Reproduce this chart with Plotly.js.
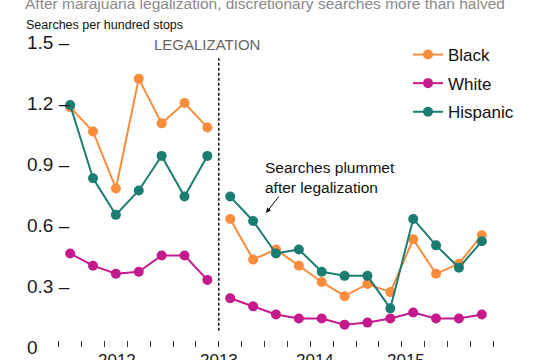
<!DOCTYPE html>
<html>
<head>
<meta charset="utf-8">
<script src="https://cdn.plot.ly/plotly-3.0.1.min.js"></script>
<style>html,body{margin:0;padding:0;background:#fff;}#chart{width:550px;height:360px;}</style>
</head>
<body>
<div id="chart"></div>
<script>
// Quarterly data, 2011 Q2 – 2015 Q4 (legalization at start of 2013)
var quarters = ['2011 Q2','2011 Q3','2011 Q4','2012 Q1','2012 Q2','2012 Q3','2012 Q4',
                '2013 Q1','2013 Q2','2013 Q3','2013 Q4','2014 Q1','2014 Q2','2014 Q3','2014 Q4',
                '2015 Q1','2015 Q2','2015 Q3','2015 Q4'];
var black    = [1.18, 1.06, 0.78, 1.32, 1.10, 1.20, 1.08,
                0.63, 0.43, 0.48, 0.40, 0.32, 0.25, 0.31, 0.27, 0.53, 0.36, 0.41, 0.55];
var white    = [0.46, 0.40, 0.36, 0.37, 0.45, 0.45, 0.33,
                0.24, 0.20, 0.16, 0.14, 0.14, 0.11, 0.12, 0.14, 0.17, 0.14, 0.14, 0.16];
var hispanic = [1.19, 0.83, 0.65, 0.77, 0.94, 0.74, 0.94,
                0.74, 0.62, 0.46, 0.48, 0.37, 0.35, 0.35, 0.19, 0.63, 0.50, 0.39, 0.52];
var seriesNames = ['Black', 'White', 'Hispanic'];
var yTickValues = [0, 0.3, 0.6, 0.9, 1.2, 1.5];
var yTickLabels = ['0', '0.3 \u2013', '0.6 \u2013', '0.9 \u2013', '1.2 \u2013', '1.5 \u2013'];
var yearLabels = ['2012', '2013', '2014', '2015'];
var legalizationIndex = 7; // first post-legalization quarter

var colors = ['#FB8C3C', '#C41A8C', '#1B7D72'];
var fontFam = '"Liberation Sans", Arial, Helvetica, sans-serif';

function withGap(vals) {
  var xs = [], ys = [];
  for (var i = 0; i < vals.length; i++) {
    if (i === legalizationIndex) { xs.push(legalizationIndex); ys.push(null); }
    xs.push(i + 0.5); ys.push(vals[i]);
  }
  return {x: xs, y: ys};
}

var allSeries = [black, white, hispanic];
var traces = allSeries.map(function (vals, k) {
  var d = withGap(vals);
  return {
    type: 'scatter', mode: 'lines+markers', name: seriesNames[k],
    legendgroup: seriesNames[k],
    x: d.x, y: d.y, connectgaps: false,
    line: {color: colors[k], width: 2},
    marker: {color: colors[k], size: 10},
    hoverinfo: 'skip'
  };
});

// pixel geometry helpers (plot area: left 40, width 500; top 30, height 317)
var L = 40, W = 500, T = 30, H = 317;
var tickBoundaries = [];
for (var b = 0; b <= 19; b++) tickBoundaries.push(b);

var annotations = [];
yTickValues.forEach(function (v, i) {
  annotations.push({
    xref: 'paper', yref: 'y', x: (25 - L) / W, y: v, xanchor: 'left', yanchor: 'middle',
    text: yTickLabels[i], showarrow: false, font: {family: fontFam, size: 19, color: '#1a1a1a'}
  });
});
var yearPos = [2.55, 7.0, 11.2, 15.2];
yearLabels.forEach(function (t, i) {
  annotations.push({
    xref: 'x', yref: 'paper', x: yearPos[i], y: (T + H - 349) / H, yanchor: 'top', xanchor: 'center',
    text: t, showarrow: false, font: {family: fontFam, size: 17, color: '#1a1a1a'}
  });
});
annotations.push({
  xref: 'paper', yref: 'paper', x: (24 - L) / W, y: (T + H - 24.5) / H, xanchor: 'left', yanchor: 'middle',
  text: 'Searches per hundred stops', showarrow: false, font: {family: fontFam, size: 12.5, color: '#111'}
});
annotations.push({
  xref: 'x', yref: 'y', x: 6.5, y: 1.488, xanchor: 'center', yanchor: 'middle',
  text: 'LEGALIZATION', showarrow: false, font: {family: fontFam, size: 15, color: '#666'}
});
annotations.push({
  xref: 'x', yref: 'y', x: (263 - 58.7) / 22.87, y: (347 - 157) / 203.3, xanchor: 'left', yanchor: 'top',
  align: 'left', text: 'Searches plummet<br>after legalization', showarrow: false,
  font: {family: fontFam, size: 15.5, color: '#111'}
});
annotations.push({
  xref: 'x', yref: 'y', x: (266 - 58.7) / 22.87, y: (347 - 213) / 203.3, ax: 14, ay: -18,
  text: '', showarrow: true, arrowhead: 2, arrowsize: 1, arrowwidth: 1, arrowcolor: '#111'
});

var layout = {
  width: 550, height: 360,
  margin: {l: L, r: 550 - L - W, t: T, b: 360 - T - H, pad: 0},
  paper_bgcolor: '#fff', plot_bgcolor: '#fff',
  font: {family: fontFam, color: '#111'},
  title: {
    text: 'After marajuana legalization, discretionary searches more than halved',
    x: 25 / 550, xanchor: 'left', xref: 'container', yref: 'container', y: 1 - 9 / 360, yanchor: 'bottom',
    font: {family: fontFam, size: 15.5, color: '#8a8a8a'}
  },
  xaxis: {
    range: [(L - 58.7) / 22.87, (L + W - 58.7) / 22.87],
    tickmode: 'array', tickvals: tickBoundaries, ticktext: tickBoundaries.map(function () { return ''; }),
    ticks: 'inside', ticklen: 6, tickwidth: 1, tickcolor: '#333',
    showgrid: false, zeroline: false, showline: false, fixedrange: true
  },
  yaxis: {
    range: [(347 - (T + H)) / 203.3, (347 - T) / 203.3],
    showticklabels: false, ticks: '', showgrid: false, zeroline: false, showline: false, fixedrange: true
  },
  showlegend: true,
  legend: {
    x: (408 - L) / W, xanchor: 'left', y: (T + H - 37) / H, yanchor: 'top',
    bgcolor: 'rgba(0,0,0,0)', borderwidth: 0, tracegroupgap: 3.5, traceorder: 'grouped',
    font: {family: fontFam, size: 17, color: '#111'}
  },
  shapes: [{
    type: 'line', xref: 'x', yref: 'y', x0: legalizationIndex, x1: legalizationIndex,
    y0: 0.08, y1: 1.42, line: {color: '#111', width: 1.5, dash: '3px,2px'}
  }],
  annotations: annotations
};

Plotly.newPlot('chart', traces, layout, {staticPlot: true, displayModeBar: false});
</script>
</body>
</html>
